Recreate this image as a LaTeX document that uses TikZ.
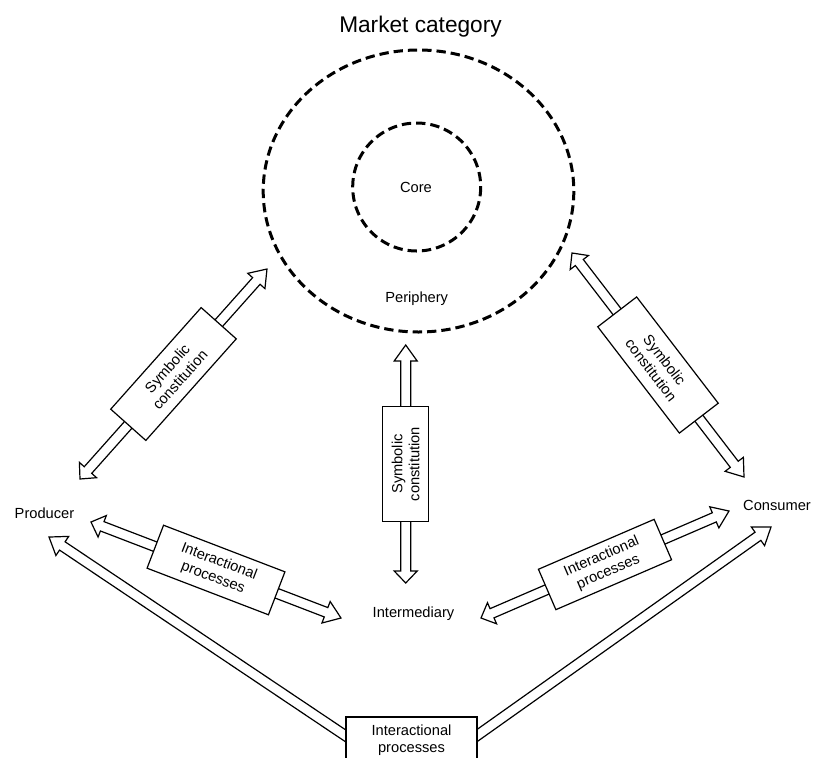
\documentclass[tikz,border=0pt]{standalone}
\usepackage{fontspec}
\setmainfont{Liberation Sans}
\usetikzlibrary{calc}

\tikzset{
  lbl/.style={font=\fontsize{11}{12.75}\selectfont, align=center},
  ringline/.style={line width=2.25pt, dash pattern=on 7pt off 3.75pt},
  blockarrow/.style={draw, fill=white, line width=0.9pt, line join=miter},
  labelbox/.style={draw, fill=white, line width=0.9pt, lbl, inner sep=0pt, transform shape},
}

% double-headed block arrow from #1 to #2 with a label box (#3 x #4 px), text #5, box name #6
\newcommand{\dblarrow}[6]{%
  \path let \p1=($(#2)-(#1)$), \n1={atan2(\y1,\x1)}, \n2={veclen(\x1,\y1)} in
    \pgfextra{\xdef\barang{\n1}\xdef\barlen{\n2}};
  \begin{scope}[shift={(#1)}, rotate=\barang]
    \draw[blockarrow] (0,0) -- (12,11.5) -- (12,5) -- ({\barlen-12},5) -- ({\barlen-12},11.5)
      -- (\barlen,0) -- ({\barlen-12},-11.5) -- ({\barlen-12},-5) -- (12,-5) -- (12,-11.5) -- cycle;
    \node[labelbox, minimum width=#3*0.75pt, minimum height=#4*0.75pt] (#6) at ({\barlen/2},0) {#5};
  \end{scope}}

% single-headed block arrow, flat tail at #1, head at #2
\newcommand{\sglarrow}[2]{%
  \path let \p1=($(#2)-(#1)$), \n1={atan2(\y1,\x1)}, \n2={veclen(\x1,\y1)} in
    \pgfextra{\xdef\barang{\n1}\xdef\barlen{\n2}};
  \begin{scope}[shift={(#1)}, rotate=\barang]
    \draw[blockarrow] (0,5) -- ({\barlen-12},5) -- ({\barlen-12},11.5) -- (\barlen,0)
      -- ({\barlen-12},-11.5) -- ({\barlen-12},-5) -- (0,-5) -- cycle;
  \end{scope}}

\begin{document}
\begin{tikzpicture}[x=0.75pt, y=-0.75pt]
  \useasboundingbox (0,0) rectangle (813,757);
  \clip (0,0) rectangle (813,757);

  % title and rings
  \node[font=\fontsize{17}{20}\selectfont] (title) at (420.5,26.5) {Market category};
  \draw[ringline] (418.5,191) ellipse [x radius=155.3, y radius=141];
  \draw[ringline] (416.7,187) circle [radius=64];
  \node[lbl] (core) at (416,187.5) {Core};
  \node[lbl] (periphery) at (416.7,299) {Periphery};

  % actors
  \node[lbl] (producer) at (44.5,513) {Producer};
  \node[lbl] (consumer) at (777,505) {Consumer};
  \node[lbl] (intermediary) at (413.5,614) {Intermediary};

  % arrow end points
  \coordinate (sA1) at (80,479);    \coordinate (sB1) at (267,269);
  \coordinate (sA2) at (405.7,583); \coordinate (sB2) at (405.7,345);
  \coordinate (sA3) at (572,253);   \coordinate (sB3) at (744,477);
  \coordinate (iA1) at (91,522);    \coordinate (iB1) at (341,618);
  \coordinate (iA2) at (481,618);   \coordinate (iB2) at (729,511);
  \coordinate (wp) at (413,781);
  \coordinate (pTip) at (49,537);
  \coordinate (cTip) at (771,527);

  \dblarrow{sA1}{sB1}{136}{47}{Symbolic\\constitution}{symL}
  \dblarrow{sA2}{sB2}{115}{46}{Symbolic\\constitution}{symM}
  \dblarrow{sA3}{sB3}{134}{49}{Symbolic\\constitution}{symR}
  \dblarrow{iA1}{iB1}{130}{46}{Interactional\\processes}{intL}
  \dblarrow{iA2}{iB2}{126}{44}{Interactional\\processes}{intR}

  % long producer-consumer arrow through the bottom box
  \sglarrow{wp}{pTip}
  \sglarrow{wp}{cTip}
  \node[labelbox, minimum width=131*0.75pt, minimum height=46*0.75pt] (intB) at (411.5,740)
    {Interactional\\processes};
\end{tikzpicture}
\end{document}
